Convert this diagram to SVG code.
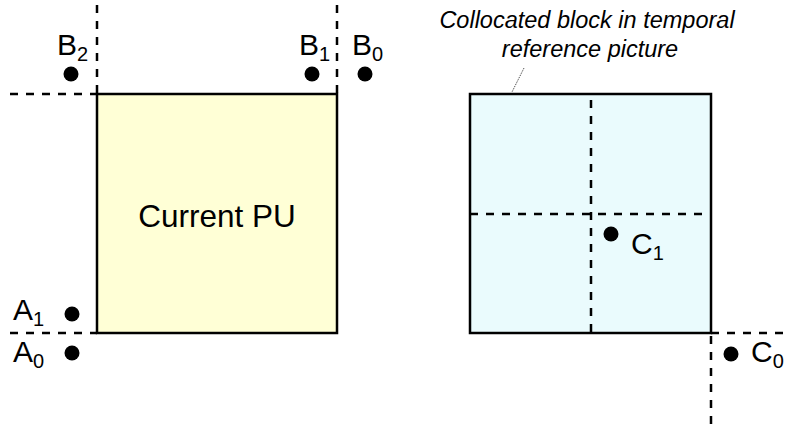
<svg xmlns="http://www.w3.org/2000/svg" width="794" height="428" viewBox="0 0 794 428">
<style>
.box{stroke:#000;stroke-width:2.5}
.dash{stroke:#000;stroke-width:2.5;stroke-dasharray:8 8;fill:none}
.lbl{font-family:"Liberation Sans",Arial,sans-serif;font-size:30px;fill:#000}
.big{font-size:31.5px}
.sub{font-size:20px}
.ital{font-family:"Liberation Sans",Arial,sans-serif;font-size:23.5px;font-style:italic;fill:#000}
.dot{fill:#000}
</style>
<rect width="794" height="428" fill="#fff"/>
<g id="current-pu">
<rect class="box" x="97" y="94" width="240" height="239" fill="#FFFFD6"/>
<text class="lbl big" x="217" y="227" text-anchor="middle">Current PU</text>
</g>
<g id="collocated-block">
<rect class="box" x="470" y="94" width="241" height="239" fill="#EAFBFD"/>
</g>
<g id="connectors">
<line class="dash" x1="97" y1="5" x2="97" y2="94"/>
<line class="dash" x1="337" y1="5" x2="337" y2="94"/>
<line class="dash" x1="10" y1="94" x2="97" y2="94"/>
<line class="dash" x1="10" y1="333" x2="97" y2="333"/>
<line class="dash" x1="591" y1="100" x2="591" y2="333"/>
<line class="dash" x1="470" y1="214" x2="704" y2="214"/>
<line class="dash" x1="711" y1="333" x2="790" y2="333"/>
<line class="dash" x1="711" y1="336" x2="711" y2="428"/>
<line x1="524" y1="68" x2="512" y2="92" stroke="#555" stroke-width="1" stroke-dasharray="1.5 1"/>
</g>
<g id="B2"><circle class="dot" cx="71" cy="74" r="7.5"/><text class="lbl" x="57" y="55">B<tspan class="sub" dy="6">2</tspan></text></g>
<g id="B1"><circle class="dot" cx="312" cy="74" r="7.5"/><text class="lbl" x="299" y="55">B<tspan class="sub" dy="6">1</tspan></text></g>
<g id="B0"><circle class="dot" cx="365" cy="74" r="7.5"/><text class="lbl" x="352" y="55">B<tspan class="sub" dy="6">0</tspan></text></g>
<g id="A1"><circle class="dot" cx="72" cy="314" r="7.5"/><text class="lbl" x="13" y="320">A<tspan class="sub" dy="6">1</tspan></text></g>
<g id="A0"><circle class="dot" cx="72" cy="353" r="7.5"/><text class="lbl" x="13" y="362">A<tspan class="sub" dy="6">0</tspan></text></g>
<g id="C1"><circle class="dot" cx="611" cy="234" r="7.5"/><text class="lbl" x="631" y="254">C<tspan class="sub" dy="6">1</tspan></text></g>
<g id="C0"><circle class="dot" cx="731" cy="354" r="7.5"/><text class="lbl" x="751" y="362">C<tspan class="sub" dy="6">0</tspan></text></g>
<g id="caption">
<text class="ital" x="587" y="28" text-anchor="middle">Collocated block in temporal</text>
<text class="ital" x="590" y="57" text-anchor="middle">reference picture</text>
</g>
</svg>
